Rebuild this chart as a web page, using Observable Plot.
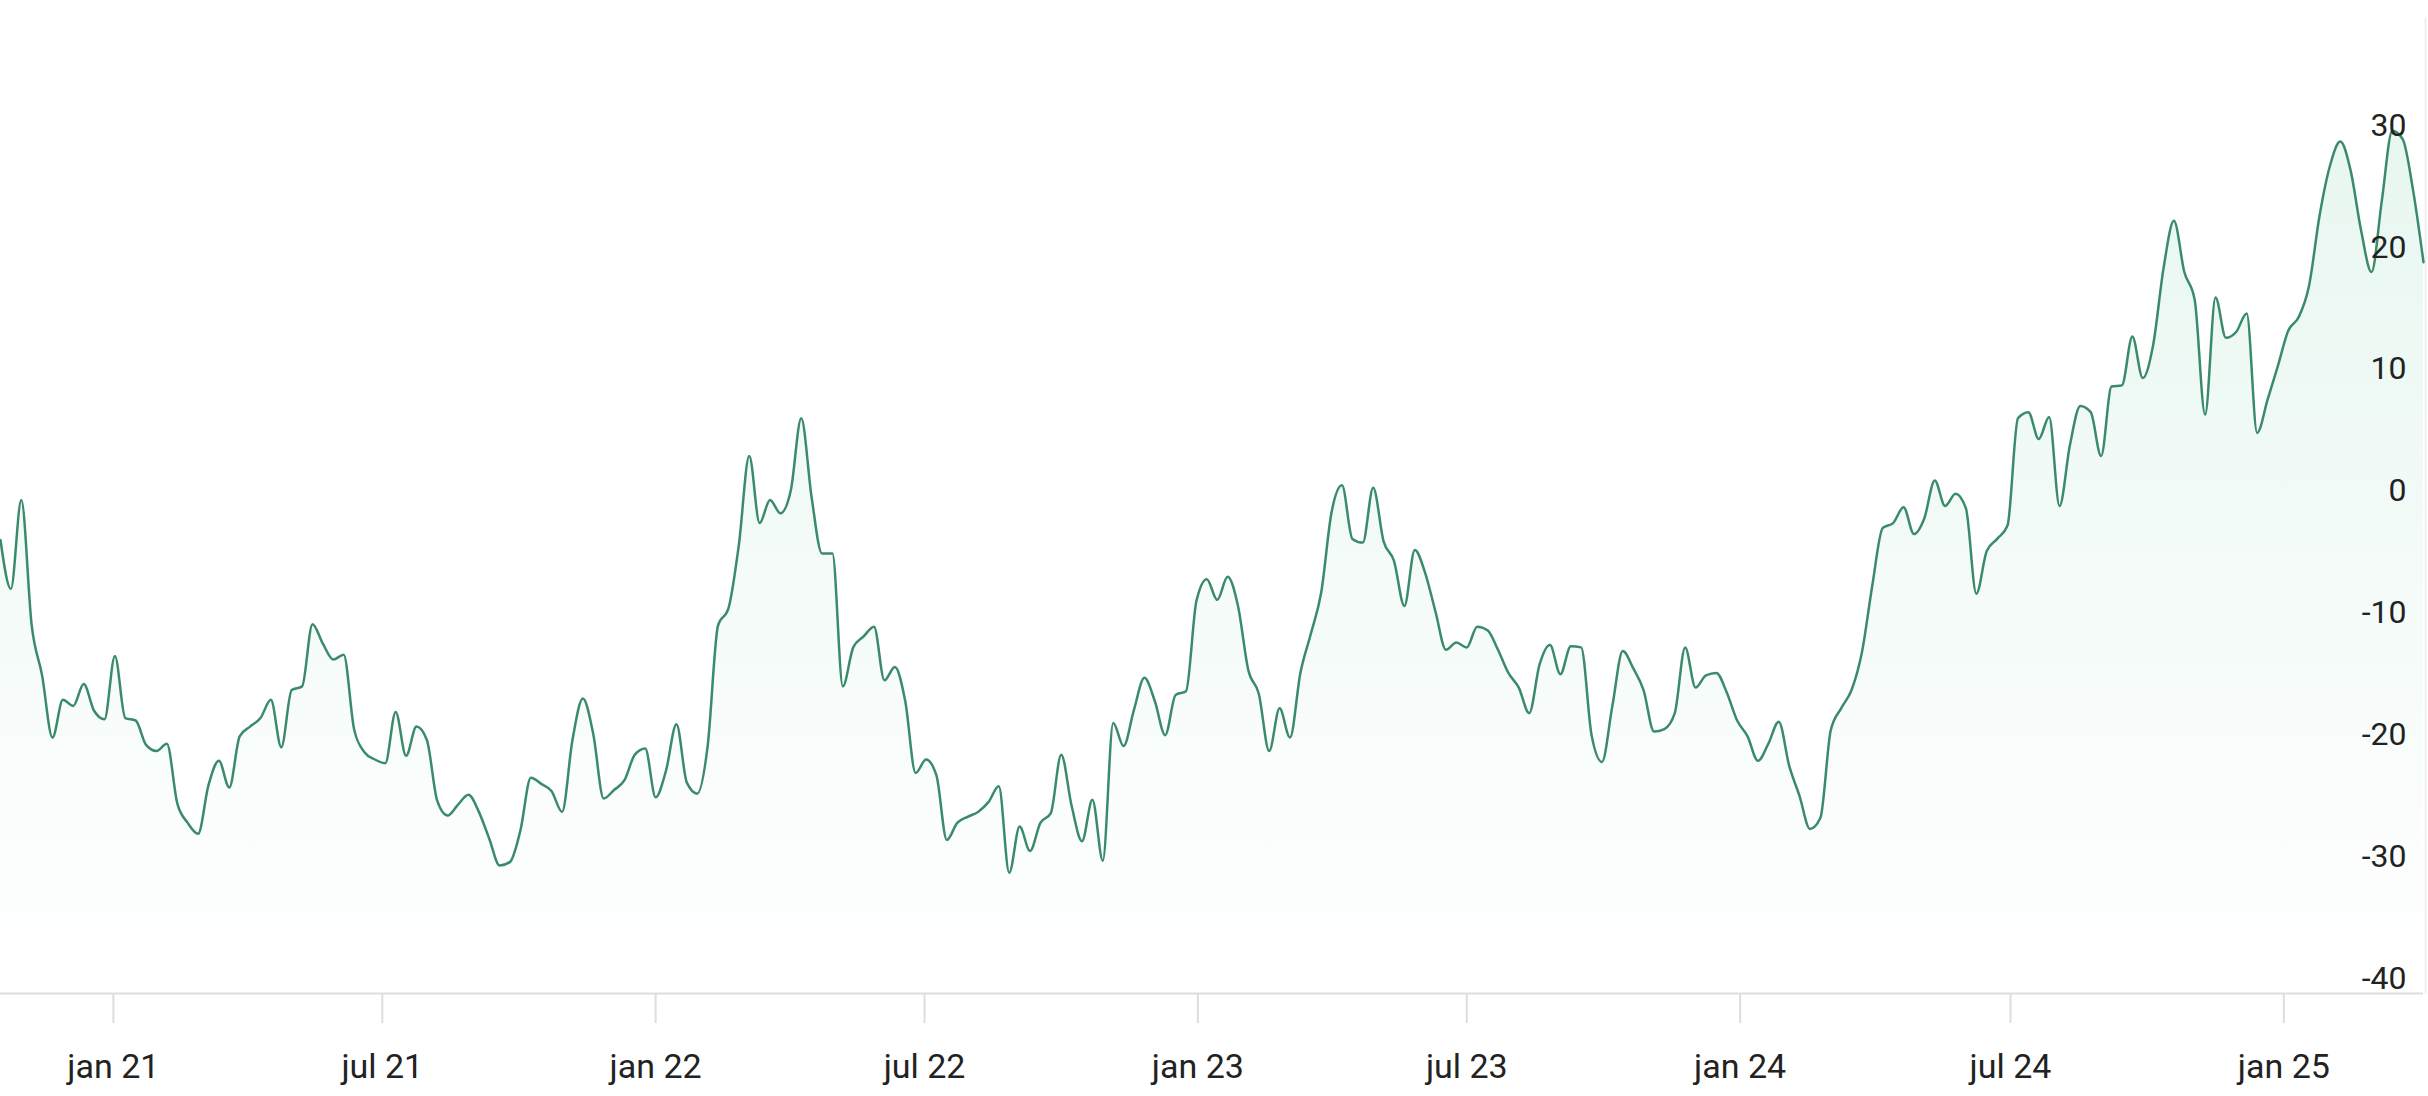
<!DOCTYPE html>
<html><head><meta charset="utf-8">
<script src="https://cdn.jsdelivr.net/npm/d3@7"></script>
<script src="https://cdn.jsdelivr.net/npm/@observablehq/plot@0.6"></script>
<style>
html,body{margin:0;padding:0;background:#fff;}
#chart svg{display:block;}
</style></head>
<body><div id="chart"></div>
<script>
const startDate = "2020-10-17"; // first weekly observation
const values = [
  -2.8,-6.8,0.5,-9.8,-13.9,-19.0,-15.9,-16.4,-14.6,-16.8,
  -17.5,-12.3,-17.4,-17.6,-19.6,-20.1,-19.5,-24.4,-26.0,-26.9,
  -22.9,-20.9,-23.1,-18.9,-18.1,-17.4,-15.9,-19.8,-15.1,-14.8,
  -9.7,-11.3,-12.6,-12.2,-18.3,-20.2,-20.8,-21.1,-16.9,-20.5,
  -18.1,-19.2,-24.2,-25.4,-24.5,-23.7,-25.1,-27.3,-29.5,-29.2,
  -26.6,-22.3,-22.8,-23.4,-25.1,-19.2,-15.8,-18.7,-24.0,-23.3,
  -22.5,-20.4,-19.9,-23.9,-21.7,-17.9,-22.7,-23.6,-19.7,-9.8,
  -8.4,-3.2,4.1,-1.4,0.5,-0.6,1.3,7.2,0.7,-3.9,
  -3.9,-14.8,-11.6,-10.7,-9.9,-14.3,-13.2,-16.0,-21.9,-20.8,
  -22.1,-27.4,-26.0,-25.5,-25.1,-24.3,-23.0,-30.1,-26.3,-28.3,
  -26.0,-25.2,-20.4,-24.6,-27.5,-24.1,-29.1,-17.8,-19.7,-16.7,
  -14.1,-16.0,-18.8,-15.5,-15.2,-7.8,-6.0,-7.7,-5.8,-8.2,
  -13.5,-15.4,-20.1,-16.6,-19.0,-13.7,-10.5,-7.1,-0.5,1.7,
  -2.7,-3.0,1.5,-2.9,-4.5,-8.2,-3.6,-5.5,-8.7,-11.8,
  -11.2,-11.6,-9.9,-10.2,-11.8,-13.7,-14.9,-17.0,-13.0,-11.4,
  -13.8,-11.5,-11.6,-18.8,-21.0,-16.4,-11.9,-13.3,-15.1,-18.5,
  -18.3,-17.0,-11.6,-14.9,-13.9,-13.7,-15.3,-17.6,-18.9,-20.9,
  -19.5,-17.7,-21.3,-23.8,-26.5,-25.6,-18.4,-16.6,-15.1,-12.0,
  -6.5,-1.8,-1.4,-0.1,-2.3,-1.0,2.1,0.0,1.0,-0.2,
  -7.2,-3.7,-2.7,-1.6,7.2,7.7,5.5,7.3,0.0,5.0,
  8.2,7.7,4.1,9.8,9.9,13.9,10.5,13.2,19.5,23.4,
  19.2,16.9,7.5,17.1,13.8,14.3,15.8,6.0,8.7,11.5,
  14.4,15.5,18.1,23.8,27.9,29.9,27.5,22.6,19.2,25.1,
  30.8,30.1,25.9,20.0
];
const yTicks = [-40, -30, -20, -10, 0, 10, 20, 30];
const xTickDates = ["2021-01-01","2021-07-01","2022-01-01","2022-07-01","2023-01-01","2023-07-01","2024-01-01","2024-07-01","2025-01-01"];
const xTickLabels = ["jan 21","jul 21","jan 22","jul 22","jan 23","jul 23","jan 24","jul 24","jan 25"];

const start = new Date(startDate + "T00:00:00Z");
const data = values.map((v, i) => ({date: d3.utcDay.offset(start, 7 * i), value: v}));
const xTicks = xTickDates.map(s => new Date(s + "T00:00:00Z"));
const lastDate = data[data.length - 1].date;

const plot = Plot.plot({
  width: 2428,
  height: 1096,
  marginLeft: 0,
  marginRight: 5,
  marginTop: 18,
  marginBottom: 103,
  style: {fontFamily: "Roboto, 'Noto Sans', sans-serif", background: "#fff"},
  x: {type: "utc", domain: [data[0].date, lastDate]},
  y: {domain: [-40, 40], axis: null},
  marks: [
    Plot.areaY(data, {x: "date", y1: -40, y2: "value", curve: "monotone-x", fill: "url(#areaGrad)"}),
    Plot.ruleX([lastDate], {stroke: "#ececec", strokeWidth: 1.5, dx: 2}),
    Plot.ruleY([-40], {stroke: "#dddddd", strokeWidth: 2}),
    Plot.line(data, {x: "date", y: "value", curve: "monotone-x", stroke: "#3a8b6a", strokeWidth: 2.5}),
    Plot.axisX({
      ticks: xTicks,
      tickFormat: d => xTickLabels[xTicks.findIndex(t => +t === +d)],
      tickSize: 30,
      tickPadding: 30,
      stroke: "#dddddd",
      strokeWidth: 2,
      fill: "#222",
      fontSize: 34
    }),
    Plot.text(yTicks, {
      y: d => d,
      text: d => String(d),
      frameAnchor: "right",
      textAnchor: "end",
      dx: -17,
      dy: -15,
      fontSize: 32,
      fill: "#222"
    })
  ]
});

d3.select(plot).insert("defs", ":first-child").html(
  '<linearGradient id="areaGrad" x1="0" y1="0" x2="0" y2="1">' +
  '<stop offset="0" stop-color="#2fb37a" stop-opacity="0.11"/>' +
  '<stop offset="1" stop-color="#2fb37a" stop-opacity="0"/>' +
  '</linearGradient>'
);
document.getElementById("chart").appendChild(plot);
</script>
</body></html>
